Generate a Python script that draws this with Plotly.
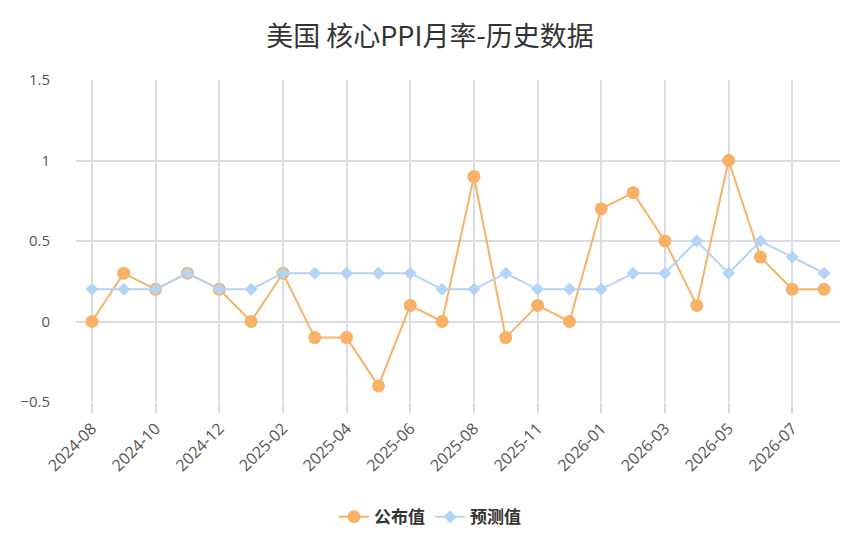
import plotly.graph_objects as go

months = ["2024-08", "2024-09", "2024-10", "2024-11", "2024-12", "2025-01",
          "2025-02", "2025-03", "2025-04", "2025-05", "2025-06", "2025-07",
          "2025-08", "2025-09", "2025-11", "2025-12", "2026-01", "2026-02",
          "2026-03", "2026-04", "2026-05", "2026-06", "2026-07", "2026-08"]
actual = [0, 0.3, 0.2, 0.3, 0.2, 0, 0.3, -0.1, -0.1, -0.4, 0.1, 0,
          0.9, -0.1, 0.1, 0, 0.7, 0.8, 0.5, 0.1, 1.0, 0.4, 0.2, 0.2]
forecast = [0.2, 0.2, 0.2, 0.3, 0.2, 0.2, 0.3, 0.3, 0.3, 0.3, 0.3, 0.2,
            0.2, 0.3, 0.2, 0.2, 0.2, 0.3, 0.3, 0.5, 0.3, 0.5, 0.4, 0.3]
y_ticks = [-0.5, 0, 0.5, 1, 1.5]
y_labels = ["−0.5", "0", "0.5", "1", "1.5"]

orange = "#f7b267"
blue = "#b3d4f5"
grid = "#d9dde3"

fig = go.Figure()

fig.add_trace(go.Scatter(
    x=list(range(len(months))), y=actual, name="公布值",
    mode="lines+markers",
    line=dict(color=orange, width=2),
    marker=dict(color=orange, size=13, symbol="circle"),
))

fig.add_trace(go.Scatter(
    x=list(range(len(months))), y=forecast, name="预测值",
    mode="lines+markers",
    line=dict(color=blue, width=2),
    marker=dict(color=blue, size=10, symbol="diamond"),
))

tick_idx = list(range(0, len(months), 2))

# the page body has an 8px margin, so the figure is sized 8px smaller
fig.update_layout(
    title=dict(text="美国 核心PPI月率-历史数据", x=0.5, y=0.947,
               xanchor="center", yanchor="middle",
               font=dict(size=27, color="#333333")),
    font=dict(family="Noto Sans CJK SC, Noto Sans, sans-serif", color="#555555"),
    width=844, height=544,
    margin=dict(l=68, r=12, t=72, b=150),
    plot_bgcolor="white", paper_bgcolor="white",
    showlegend=True,
    legend=dict(orientation="h", xref="container", x=0.5, xanchor="center",
                yref="container", y=0.064, yanchor="middle",
                font=dict(size=17, color="#333333", weight="bold"),
                itemwidth=30),
)

fig.update_xaxes(
    range=[-0.5, len(months) - 0.5], automargin=False,
    tickmode="array", tickvals=tick_idx, ticktext=[months[i] for i in tick_idx],
    tickangle=-45, tickfont=dict(family="Open Sans", size=16, color="#555555"),
    showgrid=True, gridcolor=grid, gridwidth=1.5,
    ticks="outside", ticklen=10, tickcolor=grid, tickwidth=1.5,
    showline=False, zeroline=False,
)

fig.update_yaxes(
    range=[-0.5, 1.5], automargin=False,
    tickmode="array", tickvals=y_ticks, ticktext=y_labels,
    tickfont=dict(family="Open Sans", size=15, color="#555555"),
    showgrid=True, gridcolor=grid, gridwidth=1.5,
    ticks="outside", ticklen=22, tickcolor="rgba(0,0,0,0)",
    zeroline=False, showline=False,
)

fig.write_html("out.html")
